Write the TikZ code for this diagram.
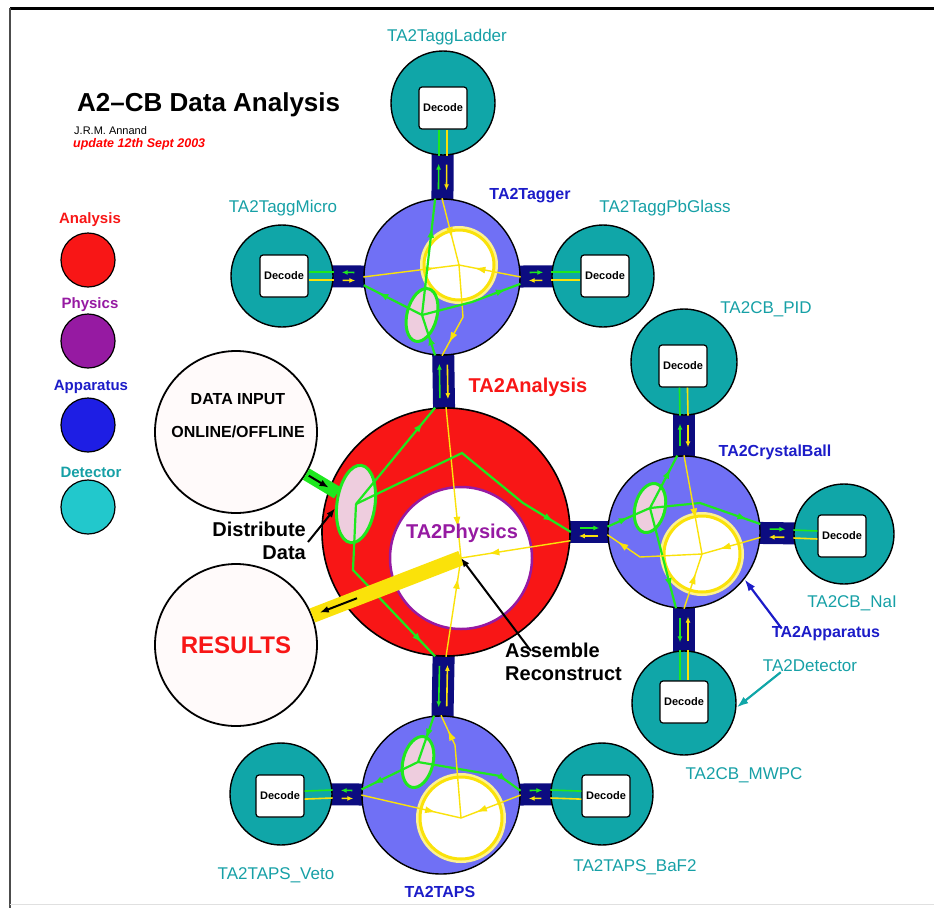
\documentclass[tikz,border=0pt]{standalone}
\usepackage{fontspec}
\setmainfont{Liberation Sans}
\usetikzlibrary{arrows.meta, positioning, shapes.geometric, backgrounds, decorations.markings}

\definecolor{detcol}{RGB}{16,166,168}
\definecolor{detlbl}{RGB}{22,160,166}
\definecolor{legdet}{RGB}{34,200,204}
\definecolor{appcol}{RGB}{112,112,245}
\definecolor{applbl}{RGB}{28,28,200}
\definecolor{legapp}{RGB}{30,30,228}
\definecolor{anacol}{RGB}{248,22,22}
\definecolor{phycol}{RGB}{150,26,162}
\definecolor{buscol}{RGB}{12,12,128}
\definecolor{flowg}{RGB}{30,232,30}
\definecolor{flowy}{RGB}{250,226,10}
\definecolor{ellcol}{RGB}{238,205,222}

\tikzset{
  anacirc/.style={circle, draw=black, line width=1.6pt, fill=anacol, minimum size=248pt},
  phycirc/.style={circle, draw=phycol, line width=2.5pt, fill=white, minimum size=142pt},
  appcirc/.style={circle, draw=black, line width=1.4pt, fill=appcol, minimum size=#1},
  detcirc/.style={circle, draw=black, line width=1.4pt, fill=detcol, minimum size=#1},
  corecirc/.style={circle, fill=white, draw=flowy, line width=3pt, minimum size=#1,
    preaction={draw=flowy!45, line width=8pt}},
  distell/.style={ellipse, fill=ellcol, draw=flowg, line width=3pt,
    minimum width=30pt, minimum height=54pt, rotate=-14},
  decodebox/.style={rectangle, rounded corners=3pt, draw=black, line width=1.2pt, fill=white,
    minimum width=48pt, minimum height=42pt, font=\bfseries\fontsize{11}{12}\selectfont},
  iocirc/.style={circle, draw=black, line width=1.8pt, fill=white!98!red, minimum size=162pt},
  busbar/.style={draw=buscol, line width=22pt},
  gflow/.style={draw=flowg, line width=2.2pt, postaction={decorate, decoration={markings,
    mark=at position #1 with {\arrow{Latex[length=10pt,width=7pt]}}}}},
  gflow/.default=0.8,
  yflow/.style={draw=flowy, line width=1.4pt, postaction={decorate, decoration={markings,
    mark=at position #1 with {\arrow{Latex[length=11pt,width=7pt]}}}}},
  yflow/.default=0.8,
  gsmall/.style={draw=flowg, line width=1.6pt, -{Latex[length=6pt,width=5pt]}, shorten <=9pt, shorten >=8pt},
  ysmall/.style={draw=flowy, line width=1.6pt, -{Latex[length=6pt,width=5pt]}, shorten <=9pt, shorten >=8pt},
  gv/.style={gsmall, transform canvas={xshift=-4pt}},
  yv/.style={ysmall, transform canvas={xshift=4pt}},
  gh/.style={gsmall, transform canvas={yshift=4pt}},
  yh/.style={ysmall, transform canvas={yshift=-4pt}},
  glv/.style={draw=flowg, line width=1.6pt, transform canvas={xshift=-4pt}},
  ylv/.style={draw=flowy, line width=1.6pt, transform canvas={xshift=4pt}},
  glh/.style={draw=flowg, line width=1.6pt, transform canvas={yshift=4pt}},
  ylh/.style={draw=flowy, line width=1.6pt, transform canvas={yshift=-4pt}},
  gband/.style={draw=flowg, line width=13pt},
  yband/.style={draw=flowy, line width=15pt},
  blkarrow/.style={draw=black, line width=2pt, -{Latex[length=9pt,width=7pt]}},
  apparrow/.style={draw=applbl, line width=2.2pt, -{Latex[length=12pt,width=8pt]}},
  detarrow/.style={draw=detcol, line width=2.2pt, -{Latex[length=12pt,width=8pt]}},
  detlabel/.style={text=detlbl, font=\fontsize{17}{19}\selectfont},
  applabel/.style={text=applbl, font=\bfseries\fontsize{16}{18}\selectfont},
  notetext/.style={text=black, font=\bfseries\fontsize{20}{23}\selectfont},
  legtext/.style={font=\bfseries\fontsize{15}{17}\selectfont},
  legdot/.style={circle, draw=black, line width=1.2pt, minimum size=54pt}
}

\begin{document}
\begin{tikzpicture}[x=1pt, y=-1pt, every node/.style={inner sep=0pt}]
    \useasboundingbox (0,0) rectangle (934,908);

    % Frame
    \draw[line width=3pt] (10,8) -- (934,8);
    \draw[line width=2.5pt, black!70] (10,8) -- (10,908);
    \draw[line width=1pt, black!12] (10,904) -- (934,904);

    % Title
    \node[anchor=west, font=\bfseries\fontsize{26}{28}\selectfont] (title) at (77,105) {A2--CB Data Analysis};
    \node[anchor=west, font=\fontsize{11}{12}\selectfont] (author) at (74,131) {J.R.M. Annand};
    \node[anchor=west, text=red, font=\bfseries\itshape\fontsize{12.5}{13}\selectfont] (update) at (73,144) {update 12th Sept 2003};

    % Legend
    \node[legtext, text=anacol] (legana) at (90,220) {Analysis};
    \node[legdot, fill=anacol] (dotana) at (88,260) {};
    \node[legtext, text=phycol] (legphy) at (90,305) {Physics};
    \node[legdot, fill=phycol] (dotphy) at (88,341) {};
    \node[legtext, text=applbl] (legapp) at (91,387) {Apparatus};
    \node[legdot, fill=legapp] (dotapp) at (88,425) {};
    \node[legtext, text=detlbl] (legdet) at (91,472) {Detector};
    \node[legdot, fill=legdet] (dotdet) at (88,507) {};

    % Analysis and physics
    \node[anacirc] (ana) at (446,532) {};
    \node[phycirc] (phy) at (461,558) {};
    \node[distell, minimum width=38pt, minimum height=78pt, rotate=6] (dis) at (356,504) {};

    % Input and output
    \node[iocirc] (din) at (236,432) {};
    \node[iocirc] (res) at (236,645) {};

    % Tagger cluster
    \node[appcirc=156pt] (tag) at (442,277) {};
    \node[corecirc=70pt] (tagc) at (459,265) {};
    \node[distell] (tagE) at (422,315) {};
    \node[detcirc=104pt] (lad) at (443,103) {};
    \node[decodebox] (dlad) at (443,108) {Decode};
    \node[detcirc=102pt] (mic) at (282,276) {};
    \node[decodebox] (dmic) at (284,276) {Decode};
    \node[detcirc=102pt] (pbg) at (603,276) {};
    \node[decodebox] (dpbg) at (605,276) {Decode};

    % Crystal Ball cluster
    \node[appcirc=152pt] (cb) at (684,532) {};
    \node[corecirc=76pt] (cbc) at (702,554) {};
    \node[distell, minimum height=50pt] (cbE) at (650,508) {};
    \node[detcirc=106pt] (pid) at (684,362) {};
    \node[decodebox] (dpid) at (683,366) {Decode};
    \node[detcirc=100pt] (nai) at (844,534) {};
    \node[decodebox] (dnai) at (842,536) {Decode};
    \node[detcirc=104pt] (mwpc) at (684,703) {};
    \node[decodebox] (dmwpc) at (684,702) {Decode};

    % TAPS cluster
    \node[appcirc=158pt] (taps) at (441,795) {};
    \node[corecirc=82pt] (tapsc) at (461,818) {};
    \node[distell, minimum height=52pt] (tapsE) at (418,762) {};
    \node[detcirc=102pt] (veto) at (281,794) {};
    \node[decodebox] (dveto) at (280,796) {Decode};
    \node[detcirc=102pt] (baf) at (602,794) {};
    \node[decodebox] (dbaf) at (606,796) {Decode};

    % Bus bars
    \begin{scope}[on background layer]
        \draw[busbar] (ana.center) -- (tag.center);
        \draw[busbar] (ana.center) -- (cb.center);
        \draw[busbar] (ana.center) -- (taps.center);
        \draw[busbar] (tag.center) -- (lad.center);
        \draw[busbar] (tag.center) -- (mic.center);
        \draw[busbar] (tag.center) -- (pbg.center);
        \draw[busbar] (cb.center) -- (pid.center);
        \draw[busbar] (cb.center) -- (nai.center);
        \draw[busbar] (cb.center) -- (mwpc.center);
        \draw[busbar] (taps.center) -- (veto.center);
        \draw[busbar] (taps.center) -- (baf.center);
    \end{scope}

    % Arrows on the bus bars
    \draw[gv] (ana) -- (tag);   \draw[yv] (tag) -- (ana);
    \draw[gh] (ana) -- (cb);    \draw[yh] (cb) -- (ana);
    \draw[gv] (ana) -- (taps);  \draw[yv] (taps) -- (ana);
    \draw[gv] (tag) -- (lad);   \draw[yv] (lad) -- (tag);
    \draw[gh] (tag) -- (mic);   \draw[yh] (mic) -- (tag);
    \draw[gh] (tag) -- (pbg);   \draw[yh] (pbg) -- (tag);
    \draw[gv] (cb) -- (pid);    \draw[yv] (pid) -- (cb);
    \draw[gh] (cb) -- (nai);    \draw[yh] (nai) -- (cb);
    \draw[gv] (cb) -- (mwpc);   \draw[yv] (mwpc) -- (cb);
    \draw[gh] (taps) -- (veto); \draw[yh] (veto) -- (taps);
    \draw[gh] (taps) -- (baf);  \draw[yh] (baf) -- (taps);

    % Links into the decoders
    \draw[glv] (lad.south) -- (dlad);   \draw[ylv] (lad.south) -- (dlad);
    \draw[glh] (mic.east) -- (dmic);    \draw[ylh] (mic.east) -- (dmic);
    \draw[glh] (pbg.west) -- (dpbg);    \draw[ylh] (pbg.west) -- (dpbg);
    \draw[glv] (pid.south) -- (dpid);   \draw[ylv] (pid.south) -- (dpid);
    \draw[glh] (nai.west) -- (dnai);    \draw[ylh] (nai.west) -- (dnai);
    \draw[glv] (mwpc.north) -- (dmwpc); \draw[ylv] (mwpc.north) -- (dmwpc);
    \draw[glh] (veto.east) -- (dveto);  \draw[ylh] (veto.east) -- (dveto);
    \draw[glh] (baf.west) -- (dbaf);    \draw[ylh] (baf.west) -- (dbaf);

    % Flow in the analysis
    \draw[yflow=0.8] (ana.90) -- (phy.center);
    \draw[yflow=0.8] (ana.-90) -- (phy.center);
    \draw[yflow=0.75] (ana.-4) -- (phy.center);
    \draw[gflow=0.85] (dis.center) -- (ana.95);
    \draw[gflow=0.92] (dis.center) -- (462,453) -- (523,503) -- (ana.0);
    \draw[gflow=0.9] (dis.center) -- (353,570) -- (ana.-95);

    % Flow in the tagger
    \draw[yflow=0.75] (tag.180) -- (tagc.center);
    \draw[yflow=0.75] (tag.0) -- (tagc.center);
    \draw[yflow=0.6] (tag.90) -- (tagc.center);
    \draw[yflow=0.85] (tagc.center) -- (463,317) -- (tag.-90);
    \draw[gflow=0.5] (tag.-95) -- (tagE.center);
    \draw[gflow=0.75] (tagE.center) -- (tag.95);
    \draw[gflow=0.75] (tagE.center) -- (tag.186);
    \draw[gflow=0.85] (tagE.center) -- (472,302) -- (tag.-5);

    % Flow in the crystal ball
    \draw[gflow=0.5] (cb.176) -- (cbE.center);
    \draw[gflow=0.75] (cbE.center) -- (cb.95);
    \draw[gflow=0.88] (cbE.center) -- (700,503) -- (cb.6);
    \draw[gflow=0.8] (cbE.center) -- (cb.-96);
    \draw[yflow=0.65] (cb.90) -- (cbc.center);
    \draw[yflow=0.7] (cb.-4) -- (cbc.center);
    \draw[yflow=0.65] (cb.-90) -- (cbc.center);
    \draw[yflow=0.88] (cbc.center) -- (640,557) -- (cb.182);

    % Flow in TAPS
    \draw[gflow=0.5] (taps.95) -- (tapsE.center);
    \draw[gflow=0.8] (tapsE.center) -- (taps.176);
    \draw[gflow=0.85] (tapsE.center) -- (500,776) -- (taps.3);
    \draw[yflow=0.75] (taps.180) -- (tapsc.center);
    \draw[yflow=0.75] (taps.0) -- (tapsc.center);
    \draw[yflow=0.85] (tapsc.center) -- (455,745) -- (taps.90);

    % Data in and results out
    \draw[gband] (din) -- (dis);
    \path (din) -- (dis) coordinate[pos=0.08] (gin1) coordinate[pos=0.72] (gin2);
    \draw[blkarrow] (gin1) -- (gin2);
    \draw[yband] (phy.center) -- (res);
    \path (res) -- (phy.center) coordinate[pos=0.05] (yout1) coordinate[pos=0.3] (yout2);
    \draw[blkarrow] (yout2) -- (yout1);

    % Texts
    \node[align=center, font=\bfseries\fontsize{16}{33}\selectfont] (ldin) at (238,416) {DATA INPUT\\ONLINE/OFFLINE};
    \node[text=anacol, font=\bfseries\fontsize{24}{26}\selectfont] (lres) at (236,645) {RESULTS};
    \node[text=anacol, font=\bfseries\fontsize{20}{22}\selectfont] (lana) at (528,387) {TA2Analysis};
    \node[text=phycol, font=\bfseries\fontsize{20}{22}\selectfont] (lphy) at (462,533) {TA2Physics};
    \node[notetext, align=right, anchor=east] (ldist) at (306,541) {Distribute\\Data};
    \node[notetext, align=left, anchor=west] (lasm) at (505,662) {Assemble\\Reconstruct};
    \draw[blkarrow] ([xshift=2pt, yshift=-1pt]ldist.east) -- (dis.200);
    \draw[blkarrow] ([xshift=26pt, yshift=-8pt]lasm.north west) -- (phy.center);

    % Labels
    \node[detlabel] (llad) at (447,37) {TA2TaggLadder};
    \node[detlabel] (lmic) at (283,208) {TA2TaggMicro};
    \node[detlabel] (lpbg) at (665,208) {TA2TaggPbGlass};
    \node[applabel] (ltag) at (530,196) {TA2Tagger};
    \node[detlabel] (lpid) at (766,309) {TA2CB\_PID};
    \node[applabel] (lcb) at (775,452) {TA2CrystalBall};
    \node[detlabel] (lnai) at (852,603) {TA2CB\_NaI};
    \node[applabel] (lapp) at (826,634) {TA2Apparatus};
    \node[detlabel] (ldet) at (810,666) {TA2Detector};
    \node[detlabel] (lmwpc) at (744,775) {TA2CB\_MWPC};
    \node[detlabel] (lveto) at (276,875) {TA2TAPS\_Veto};
    \node[detlabel] (lbaf) at (635,867) {TA2TAPS\_BaF2};
    \node[applabel] (ltaps) at (440,892) {TA2TAPS};
    \draw[apparrow] ([xshift=10pt, yshift=-2pt]lapp.north west) -- (cb.-38);
    \draw[detarrow] ([xshift=18pt]ldet.south west) -- (mwpc.-5);

\end{tikzpicture}
\end{document}
